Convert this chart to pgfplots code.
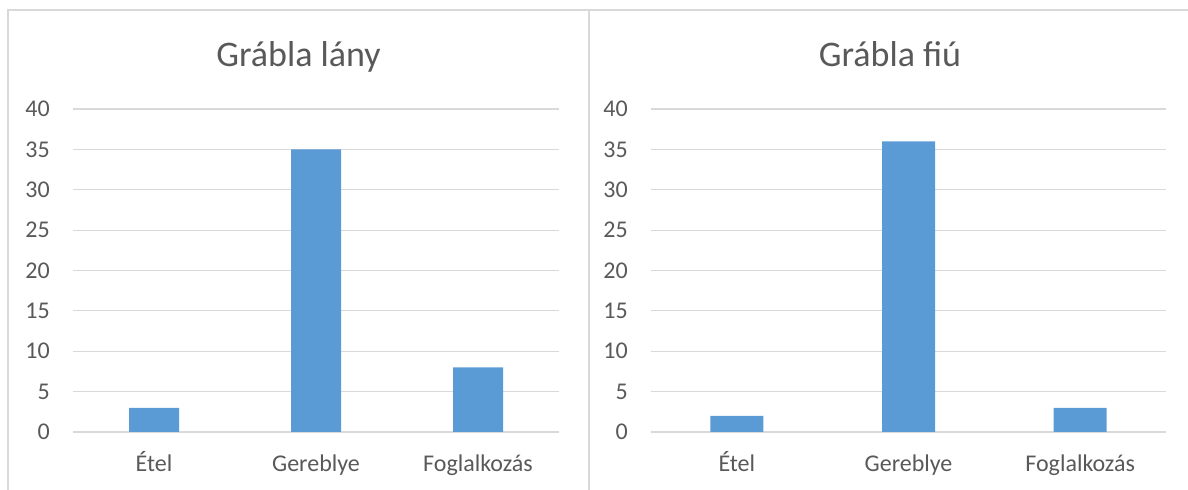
\documentclass[border=0pt]{standalone}
\usepackage{pgfplots}
\pgfplotsset{compat=1.18}
\usepackage{fontspec}
\setmainfont{Carlito}
\definecolor{barblue}{HTML}{5B9BD5}
\definecolor{txtgray}{HTML}{595959}
\definecolor{gridgray}{HTML}{D9D9D9}
\pgfplotsset{
  excelstyle/.style={
    scale only axis,
    height=242.25pt,
    ymin=0, ymax=40,
    ytick={0,5,...,40},
    xmin=-0.5, xmax=2.5,
    xtick={0,1,2},
    xticklabels={Étel,Gereblye,Foglalkozás},
    axis line style={draw=none},
    major tick length=0pt,
    ymajorgrids,
    grid style={gridgray, line width=0.9pt},
    tick label style={font=\fontsize{18pt}{20pt}\selectfont, text=txtgray},
    /pgf/number format/assume math mode=true,
    yticklabel style={anchor=east, inner sep=0pt, xshift=-17.25pt},
    xticklabel style={anchor=base, inner sep=0pt, yshift=-29.25pt},
    enlargelimits=false,
    clip=false,
  }
}
\begin{document}
\begin{tikzpicture}
\useasboundingbox (0,0) rectangle (891pt,366.75pt);
\begin{scope}
\clip (0,0) rectangle (891pt,366.75pt);
\draw[gridgray, line width=1.2pt] (6pt,-10pt) -- (6pt,359.25pt) -- (900pt,359.25pt);
\draw[gridgray, line width=1.2pt] (441.75pt,-10pt) -- (441.75pt,359.25pt);
\end{scope}
\node[font=\fontsize{27pt}{30pt}\selectfont, text=txtgray, anchor=base] at (223.9pt,316.5pt) {Grábla lány};
\node[font=\fontsize{27pt}{30pt}\selectfont, text=txtgray, anchor=base] at (667.5pt,316.5pt) {Grábla fiú};
\begin{axis}[excelstyle, at={(54.75pt,42.75pt)}, anchor=south west, width=364.5pt]
\addplot[ybar, bar width=37.5pt, fill=barblue, draw=none] coordinates {(0,3) (1,35) (2,8)};
\end{axis}
\begin{axis}[excelstyle, at={(488.25pt,42.75pt)}, anchor=south west, width=386.25pt]
\addplot[ybar, bar width=39.75pt, fill=barblue, draw=none] coordinates {(0,2) (1,36) (2,3)};
\end{axis}
\end{tikzpicture}
\end{document}
